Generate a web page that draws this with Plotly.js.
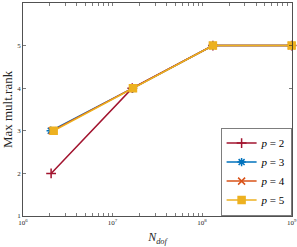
<!DOCTYPE html>
<html>
<head>
<meta charset="utf-8">
<script src="https://cdn.plot.ly/plotly-3.0.1.min.js"></script>
<style>html,body{margin:0;padding:0;background:#fff;}#plot{width:297px;height:247px;}</style>
</head>
<body>
<div id="plot"></div>
<script>
// Data
const ndofP2 = [2.06e6, 1.66e7, 1.32e8, 1.0e9];
const rankP2 = [2, 4, 5, 5];
const ndofP3 = [2.04e6, 1.69e7, 1.32e8, 1.0e9];
const rankP3 = [3, 4, 5, 5];
const ndofP4 = [2.12e6, 1.69e7, 1.32e8, 1.0e9];
const rankP4 = [3, 4, 5, 5];
const ndofP5 = [2.2e6, 1.69e7, 1.32e8, 1.0e9];
const rankP5 = [3, 4, 5, 5];
const seriesNames = ['<i>p</i> = 2', '<i>p</i> = 3', '<i>p</i> = 4', '<i>p</i> = 5'];
const xTickDecades = [1e6, 1e7, 1e8, 1e9];
const xTickLabels = ['10<sup>6</sup>', '10<sup>7</sup>', '10<sup>8</sup>', '10<sup>9</sup>'];
const yTicks = [1, 2, 3, 4, 5, 6];

const colors = ['#A2142F', '#0072BD', '#D95319', '#EDB120'];
const symbols = ['cross-thin-open', 'asterisk-open', 'x-thin-open', 'square'];
const xs = [ndofP2, ndofP3, ndofP4, ndofP5];
const ys = [rankP2, rankP3, rankP4, rankP5];

const traces = xs.map((x, i) => ({
  x: x, y: ys[i], name: seriesNames[i], type: 'scatter', mode: 'lines+markers',
  line: {color: colors[i], width: 1.5},
  marker: {symbol: symbols[i], size: 7, color: colors[i],
           line: {color: colors[i], width: 1.5}},
  cliponaxis: false
}));

const tv = [], tt = [];
xTickDecades.forEach((d, k) => {
  tv.push(d); tt.push(xTickLabels[k]);
  if (k < xTickDecades.length - 1) {
    for (let m = 2; m <= 9; m++) { tv.push(d * m); tt.push(''); }
  }
});

const layout = {
  width: 297, height: 247,
  margin: {l: 23, r: 5, t: 3, b: 31},
  paper_bgcolor: '#fff', plot_bgcolor: '#fff',
  font: {family: 'Liberation Serif, serif', color: '#262626'},
  showlegend: true,
  xaxis: {
    type: 'log', range: [6, 9.004], tickmode: 'array', tickvals: tv, ticktext: tt,
    ticks: 'inside', ticklen: 3, tickcolor: '#262626', tickwidth: 0.6,
    showline: true, linecolor: '#262626', linewidth: 0.8, mirror: 'ticks',
    showgrid: false, zeroline: false,
    tickfont: {size: 7, family: 'Liberation Serif, serif', color: '#262626'},
    title: {text: '<i>N</i><sub><i>dof</i></sub>', font: {size: 12, family: 'Liberation Serif, serif', color: '#262626'}, standoff: 6}
  },
  yaxis: {
    range: [1, 6], tickmode: 'array', tickvals: yTicks,
    ticks: 'inside', ticklen: 3, tickcolor: '#262626', tickwidth: 0.6,
    showline: true, linecolor: '#262626', linewidth: 0.8, mirror: 'ticks',
    showgrid: false, zeroline: false,
    tickfont: {size: 7, family: 'Liberation Serif, serif', color: '#262626'},
    title: {text: 'Max mult.rank', font: {size: 13, family: 'Liberation Serif, serif', color: '#262626'}, standoff: 3}
  },
  legend: {
    x: 1, y: 0, xanchor: 'right', yanchor: 'bottom',
    bgcolor: '#fff', bordercolor: '#262626', borderwidth: 0.6,
    font: {size: 11, family: 'Liberation Serif, serif', color: '#000'},
    itemwidth: 30, tracegroupgap: 0
  }
};

Plotly.newPlot('plot', traces, layout, {displayModeBar: false, staticPlot: true});
</script>
</body>
</html>
